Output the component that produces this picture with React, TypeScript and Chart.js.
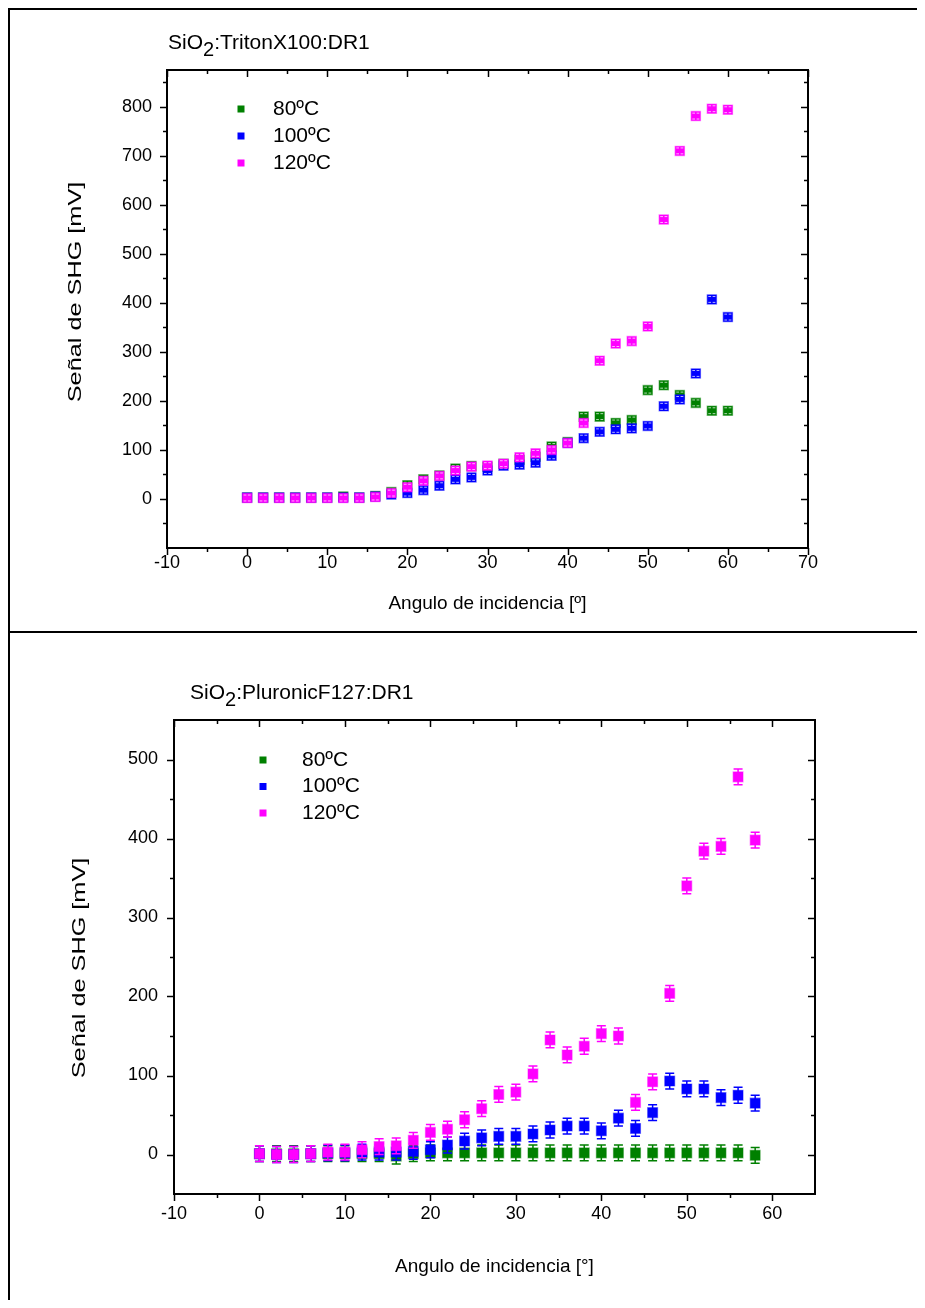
import React, { useEffect, useRef } from 'react';
import { Chart, registerables } from 'chart.js';

Chart.register(...registerables);

const FONT = '"Liberation Sans", Arial, Helvetica, sans-serif';

// ---------------- Top chart: SiO2:TritonX100:DR1 ----------------
const anglesTop = [0, 2, 4, 6, 8, 10, 12, 14, 16, 18, 20, 22, 24, 26, 28, 30, 32, 34, 36, 38, 40, 42, 44, 46, 48, 50, 52, 54, 56, 58, 60];
const shg80Top = [3, 3, 3, 3, 3, 3, 5, 3, 6, 14, 28, 40, 48, 62, 67, 66, 72, 80, 86, 107, 116, 168, 168, 155, 161, 222, 232, 212, 196, 180, 180];
const shg100Top = [3, 3, 3, 3, 3, 3, 3, 3, 5, 9, 12, 18, 27, 40, 44, 58, 68, 70, 74, 88, 114, 124, 137, 142, 144, 149, 189, 203, 256, 407, 371];
const shg120Top = [2, 2, 2, 2, 2, 2, 2, 2, 4, 12, 24, 37, 47, 58, 66, 68, 72, 85, 93, 100, 114, 155, 282, 317, 322, 352, 570, 710, 781, 796, 794];
const errTop = 6;
const xMajorTop = [-10, 0, 10, 20, 30, 40, 50, 60, 70];
const xMinorTop = [-5, 5, 15, 25, 35, 45, 55, 65];
const yMajorTop = [0, 100, 200, 300, 400, 500, 600, 700, 800];
const yMinorTop = [-50, 50, 150, 250, 350, 450, 550, 650, 750, 850];

// ---------------- Bottom chart: SiO2:PluronicF127:DR1 ----------------
const anglesBot = [0, 2, 4, 6, 8, 10, 12, 14, 16, 18, 20, 22, 24, 26, 28, 30, 32, 34, 36, 38, 40, 42, 44, 46, 48, 50, 52, 54, 56, 58];
const shg80Bot = [1, 1, 1, 1, 1, 1, 1, 1, -2, 1, 2, 2, 2, 2, 2, 2, 2, 2, 2, 2, 2, 2, 2, 2, 2, 2, 2, 2, 2, -1];
const shg100Bot = [1, 0, 0, 1, 2, 2, 3, 3, 3, 4, 6, 12, 17, 21, 23, 23, 26, 31, 36, 36, 30, 46, 33, 53, 93, 83, 83, 72, 75, 65];
const shg120Bot = [1, 0, 0, 1, 3, 3, 6, 10, 11, 18, 28, 32, 44, 58, 76, 79, 102, 145, 126, 137, 153, 150, 66, 92, 204, 340, 384, 390, 478, 398];
const errBot = 10;
const xMajorBot = [-10, 0, 10, 20, 30, 40, 50, 60];
const xMinorBot = [-5, 5, 15, 25, 35, 45, 55];
const yMajorBot = [0, 100, 200, 300, 400, 500];
const yMinorBot = [50, 150, 250, 350, 450];

const seriesLabels = ['80ºC', '100ºC', '120ºC'];
const seriesColors = ['#008000', '#0000FF', '#FF00FF'];
const seriesFringe = ['rgba(0,128,0,0.45)', 'rgba(0,0,255,0.45)', 'rgba(255,0,255,0.45)'];
const yAxisTitle = 'Señal de SHG [mV]';

const toPoints = (xs: number[], ys: number[]) => xs.map((x, i) => ({ x, y: ys[i] }));

const axesBoxPlugin = {
  id: 'axesBox',
  afterDraw(chart: any, _args: any, opts: any) {
    const { ctx, chartArea } = chart;
    const { left, right, top, bottom } = chartArea;
    const xs = chart.scales.x;
    const ys = chart.scales.y;
    const line = (x1: number, y1: number, x2: number, y2: number) => {
      ctx.beginPath();
      ctx.moveTo(x1, y1);
      ctx.lineTo(x2, y2);
      ctx.stroke();
    };
    ctx.save();
    ctx.strokeStyle = '#000';
    ctx.lineWidth = 1.5;
    const xTicks = (vals: number[], outLen: number, inLen: number) => {
      vals.forEach((v) => {
        const px = Math.round(xs.getPixelForValue(v)) + 0.5;
        line(px, bottom, px, bottom + outLen);
        line(px, top, px, top + inLen);
      });
    };
    const yTicks = (vals: number[], outLen: number, inLen: number) => {
      vals.forEach((v) => {
        const py = Math.round(ys.getPixelForValue(v)) + 0.5;
        line(left, py, left - outLen, py);
        line(right, py, right - inLen, py);
      });
    };
    xTicks(opts.xMajor, opts.majorLen, opts.majorLen);
    xTicks(opts.xMinor, opts.minorLen, opts.minorLen);
    yTicks(opts.yMajor, opts.majorLen, opts.majorLen);
    yTicks(opts.yMinor, opts.minorLen, opts.minorLen);
    ctx.lineWidth = 2;
    ctx.strokeRect(left, top, right - left, bottom - top);

    // rotated y-axis title, stretched along its length like the original export
    const t = opts.yTitle;
    ctx.save();
    ctx.translate(t.cx, t.cy);
    ctx.rotate(-Math.PI / 2);
    ctx.scale(t.stretch, 1);
    ctx.font = `${t.size}px ${FONT}`;
    ctx.fillStyle = '#000';
    ctx.textAlign = 'center';
    ctx.textBaseline = 'middle';
    ctx.fillText(t.text, 0, 0);
    ctx.restore();
    ctx.restore();
  },
};

const drawErrors = (chart: any, index: number, opts: any) => {
  const ds = chart.data.datasets[index];
  const meta = chart.getDatasetMeta(index);
  if (!meta || meta.hidden) return;
  const { ctx } = chart;
  const xs = chart.scales.x;
  const ys = chart.scales.y;
  const e = ds.errorValue;
  const half = opts.capWidth / 2;
  ctx.save();
  ds.data.forEach((p: any) => {
    const px = xs.getPixelForValue(p.x);
    const yHi = ys.getPixelForValue(p.y + e);
    const yLo = ys.getPixelForValue(p.y - e);
    if (opts.mode === 'under') {
      ctx.strokeStyle = ds.backgroundColor;
      ctx.lineWidth = 1.5;
      ctx.beginPath();
      ctx.moveTo(px, yHi);
      ctx.lineTo(px, yLo);
      ctx.moveTo(px - half, yHi);
      ctx.lineTo(px + half, yHi);
      ctx.moveTo(px - half, yLo);
      ctx.lineTo(px + half, yLo);
      ctx.stroke();
    } else {
      ctx.strokeStyle = 'rgba(255,255,255,0.7)';
      ctx.lineWidth = 1;
      ctx.beginPath();
      [yHi, yLo].forEach((yy) => {
        ctx.moveTo(px - half, yy);
        ctx.lineTo(px - 0.8, yy);
        ctx.moveTo(px + 0.8, yy);
        ctx.lineTo(px + half, yy);
      });
      ctx.stroke();
    }
  });
  ctx.restore();
};

const errorBarPlugin = {
  id: 'errorBars',
  beforeDatasetDraw(chart: any, args: any, opts: any) {
    if (opts.mode === 'under') drawErrors(chart, args.index, opts);
  },
  afterDatasetDraw(chart: any, args: any, opts: any) {
    if (opts.mode === 'caps') drawErrors(chart, args.index, opts);
  },
};

const boxLegendPlugin = {
  id: 'boxLegend',
  afterDraw(chart: any, _args: any, opts: any) {
    const { ctx, chartArea } = chart;
    ctx.save();
    ctx.font = `${opts.fontSize}px ${FONT}`;
    ctx.textBaseline = 'middle';
    ctx.textAlign = 'left';
    chart.data.datasets.forEach((ds: any, i: number) => {
      const y = chartArea.top + opts.firstRow + i * opts.rowGap;
      const mx = chartArea.left + opts.markerX;
      ctx.fillStyle = ds.backgroundColor;
      ctx.fillRect(mx - opts.markerSize / 2, y - opts.markerSize / 2, opts.markerSize, opts.markerSize);
      ctx.fillStyle = '#000';
      ctx.fillText(ds.label, chartArea.left + opts.textX, y);
    });
    ctx.restore();
  },
};

function makeConfig(p: any): any {
  const datasets = p.series.map((vals: number[], i: number) => ({
    label: seriesLabels[i],
    data: toPoints(p.angles, vals),
    backgroundColor: seriesColors[i],
    borderColor: seriesFringe[i],
    borderWidth: 1.2,
    pointStyle: 'rect',
    pointRadius: p.pointRadius,
    pointHoverRadius: p.pointRadius,
    showLine: false,
    order: 2 - i,
    errorValue: p.err,
  }));
  const tickFont = { family: FONT, size: 18 };
  const titleFont = { family: FONT, size: 19 };
  return {
    type: 'scatter',
    data: { datasets },
    plugins: [errorBarPlugin, axesBoxPlugin, boxLegendPlugin],
    options: {
      responsive: false,
      animation: false,
      events: [],
      devicePixelRatio: 1,
      layout: { padding: p.padding },
      plugins: {
        legend: { display: false },
        title: { display: false },
        tooltip: { enabled: false },
        errorBars: { mode: p.errMode, capWidth: p.capWidth },
        axesBox: {
          xMajor: p.xMajor,
          xMinor: p.xMinor,
          yMajor: p.yMajor,
          yMinor: p.yMinor,
          majorLen: 7,
          minorLen: 4,
          yTitle: { text: yAxisTitle, size: 19, stretch: 1.33, cx: p.yTitleX, cy: p.yTitleY },
        },
        boxLegend: p.legend,
      },
      scales: {
        x: {
          type: 'linear',
          min: p.xMin,
          max: p.xMax,
          afterBuildTicks: (s: any) => {
            s.ticks = p.xMajor.map((v: number) => ({ value: v }));
          },
          afterFit: (s: any) => {
            s.height = p.xAxisHeight;
          },
          grid: { display: false, drawTicks: false },
          border: { display: false },
          ticks: { font: tickFont, color: '#000', padding: p.xTickPad, maxRotation: 0, autoSkip: false },
          title: { display: true, text: p.xTitle, font: titleFont, color: '#000', padding: { top: 0, bottom: p.xTitlePad } },
        },
        y: {
          type: 'linear',
          min: p.yMin,
          max: p.yMax,
          afterBuildTicks: (s: any) => {
            s.ticks = p.yMajor.map((v: number) => ({ value: v }));
          },
          afterFit: (s: any) => {
            s.width = p.yAxisWidth;
          },
          grid: { display: false, drawTicks: false },
          border: { display: false },
          ticks: { font: tickFont, color: '#000', padding: p.yTickPad, autoSkip: false },
          title: { display: false },
        },
      },
    },
  };
}

function ChartCanvas({ config, left, top, width, height }: any) {
  const ref = useRef<HTMLCanvasElement>(null);
  useEffect(() => {
    const chart = new Chart(ref.current as HTMLCanvasElement, config);
    return () => chart.destroy();
  }, []);
  return (
    <canvas
      ref={ref}
      width={width}
      height={height}
      style={{ position: 'absolute', left, top, width, height, display: 'block' }}
    />
  );
}

const topConfig = makeConfig({
  angles: anglesTop,
  series: [shg80Top, shg100Top, shg120Top],
  err: errTop,
  errMode: 'caps',
  capWidth: 7,
  pointRadius: 6.6,
  xMin: -10,
  xMax: 70,
  yMin: -100,
  yMax: 875,
  xMajor: xMajorTop,
  xMinor: xMinorTop,
  yMajor: yMajorTop,
  yMinor: yMinorTop,
  xTitle: 'Angulo de incidencia [º]',
  padding: { left: 0, top: 60, right: 117, bottom: 2 },
  xAxisHeight: 80,
  yAxisWidth: 157,
  xTickPad: 4,
  yTickPad: 15,
  xTitlePad: 12.6,
  yTitleX: 66,
  yTitleY: 282,
  legend: { markerX: 74, textX: 106, firstRow: 39, rowGap: 27, markerSize: 7, fontSize: 21 },
});

const bottomConfig = makeConfig({
  angles: anglesBot,
  series: [shg80Bot, shg100Bot, shg120Bot],
  err: errBot,
  errMode: 'under',
  capWidth: 9,
  pointRadius: 7,
  xMin: -10,
  xMax: 65,
  yMin: -50,
  yMax: 550,
  xMajor: xMajorBot,
  xMinor: xMinorBot,
  yMajor: yMajorBot,
  yMinor: yMinorBot,
  xTitle: 'Angulo de incidencia [°]',
  padding: { left: 0, top: 86, right: 110, bottom: 14 },
  xAxisHeight: 100,
  yAxisWidth: 164,
  xTickPad: 9,
  yTickPad: 16,
  xTitlePad: 15.6,
  yTitleX: 70,
  yTitleY: 334,
  legend: { markerX: 89, textX: 128, firstRow: 40, rowGap: 26.5, markerSize: 7, fontSize: 21 },
});

const titleStyle: React.CSSProperties = {
  position: 'absolute',
  font: `21px ${FONT}`,
  lineHeight: '24px',
  whiteSpace: 'nowrap',
  color: '#000',
};
const subStyle: React.CSSProperties = { fontSize: '20px', verticalAlign: '-7px', lineHeight: 0 };

export default function App() {
  useEffect(() => {
    document.body.style.overflow = 'hidden';
  }, []);
  return (
    <div style={{ position: 'relative', width: 917, height: 1292, fontFamily: FONT }}>
      <div
        style={{
          position: 'absolute',
          left: 0,
          top: 0,
          width: 915,
          height: 1300,
          borderLeft: '2px solid #000',
          borderTop: '2px solid #000',
        }}
      />
      <div style={{ position: 'absolute', left: 0, top: 623, width: 917, height: 2, background: '#000' }} />
      <ChartCanvas config={topConfig} left={2} top={2} width={915} height={620} />
      <ChartCanvas config={bottomConfig} left={2} top={626} width={915} height={674} />
      <div style={{ ...titleStyle, left: 160, top: 22 }}>
        SiO<sub style={subStyle}>2</sub>:TritonX100:DR1
      </div>
      <div style={{ ...titleStyle, left: 182, top: 672 }}>
        SiO<sub style={subStyle}>2</sub>:PluronicF127:DR1
      </div>
    </div>
  );
}
